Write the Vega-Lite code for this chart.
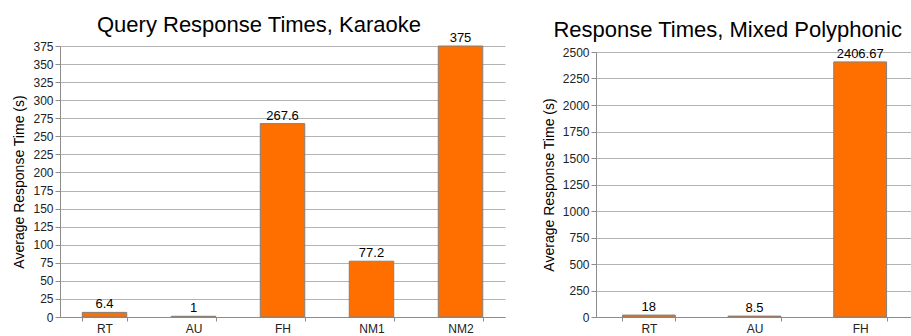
{
  "$schema": "https://vega.github.io/schema/vega-lite/v6.json",
  "padding": {"left": 12, "top": 14, "right": 0, "bottom": 0},
  "spacing": 37,
  "config": {
    "font": "Liberation Sans",
    "view": {"stroke": null},
    "title": {"fontSize": 22, "fontWeight": "normal", "color": "#000000", "frame": "bounds", "anchor": "middle"},
    "axis": {
      "labelFont": "Liberation Sans", "labelFontSize": 12, "labelColor": "#222222",
      "titleFont": "Liberation Sans", "titleFontSize": 14, "titleFontWeight": "normal", "titleColor": "#000000",
      "domainColor": "#8c8c8c", "tickColor": "#8c8c8c", "gridColor": "#b3b3b3"
    }
  },
  "hconcat": [
    {
      "title": {"text": "Query Response Times, Karaoke", "offset": 0, "dy": 5},
      "width": 445,
      "height": 271,
      "data": {"values": [
        {"method": "RT", "time": 6.4},
        {"method": "AU", "time": 1},
        {"method": "FH", "time": 267.6},
        {"method": "NM1", "time": 77.2},
        {"method": "NM2", "time": 375}
      ]},
      "encoding": {
        "x": {"field": "method", "type": "nominal", "sort": null,
          "scale": {"paddingInner": 0.5, "paddingOuter": 0.25},
          "axis": {"title": null, "labelAngle": 0, "tickBand": "extent", "tickSize": 4, "labelPadding": 2, "grid": false}},
        "y": {"field": "time", "type": "quantitative",
          "scale": {"domain": [0, 375], "nice": false},
          "axis": {"title": "Average Response Time (s)", "format": "d", "values": [0,25,50,75,100,125,150,175,200,225,250,275,300,325,350,375], "tickSize": 5, "labelPadding": 2, "titlePadding": 6, "grid": true}}
      },
      "layer": [
        {"mark": {"type": "bar", "color": "#ff6f00", "stroke": "#808080", "strokeWidth": 1}},
        {"mark": {"type": "text", "baseline": "bottom", "dy": -1, "fontSize": 13, "color": "#000000"},
         "encoding": {"text": {"field": "time", "type": "nominal"}}}
      ]
    },
    {
      "title": {"text": "Response Times, Mixed Polyphonic", "offset": 4},
      "width": 317,
      "height": 271,
      "data": {"values": [
        {"method": "RT", "time": 18},
        {"method": "AU", "time": 8.5},
        {"method": "FH", "time": 2406.67}
      ]},
      "encoding": {
        "x": {"field": "method", "type": "nominal", "sort": null,
          "scale": {"paddingInner": 0.5, "paddingOuter": 0.25},
          "axis": {"title": null, "labelAngle": 0, "tickBand": "extent", "tickSize": 4, "labelPadding": 2, "grid": false}},
        "y": {"field": "time", "type": "quantitative",
          "scale": {"domain": [0, 2500], "nice": false, "range": [271, 6]},
          "axis": {"title": "Average Response Time (s)", "format": "d", "values": [0,250,500,750,1000,1250,1500,1750,2000,2250,2500], "tickSize": 5, "labelPadding": 2, "titlePadding": 6, "grid": true}}
      },
      "layer": [
        {"mark": {"type": "bar", "color": "#ff6f00", "stroke": "#808080", "strokeWidth": 1}},
        {"mark": {"type": "text", "baseline": "bottom", "dy": -1, "fontSize": 13, "color": "#000000"},
         "encoding": {"text": {"field": "time", "type": "nominal"}}}
      ]
    }
  ]
}
